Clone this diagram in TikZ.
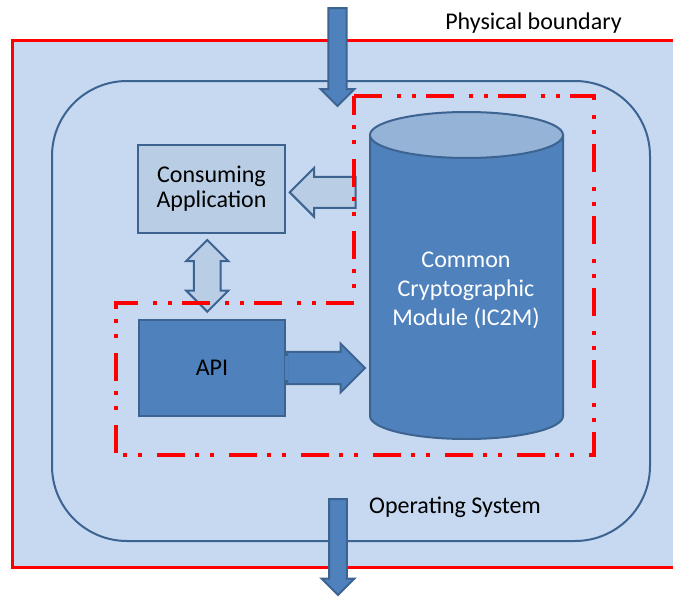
\documentclass[tikz,border=0pt]{standalone}
\usepackage{fontspec}
\setmainfont{Carlito}
\usetikzlibrary{shapes.arrows,calc}

\definecolor{bgblue}{HTML}{C6D9F1}
\definecolor{lineblue}{HTML}{3D6391}
\definecolor{midblue}{HTML}{4F81BD}
\definecolor{topblue}{HTML}{95B3D7}
\definecolor{paleblue}{HTML}{B9CDE5}
\definecolor{bred}{HTML}{FF0000}

\begin{document}
\begin{tikzpicture}[x=1pt, y=-1pt,
    every node/.style={font=\fontsize{24}{29}\selectfont},
    box/.style={draw=lineblue, line width=2pt, fill=paleblue},
    blockarrow/.style={draw=lineblue, line width=2pt},
    boundary/.style={draw=bred, line width=4pt, dash pattern=on 28pt off 15pt on 4pt off 11pt on 4pt off 10pt}]
    \useasboundingbox (0,0) rectangle (673,597);

    % Physical boundary and operating system
    \filldraw[fill=bgblue, draw=bred, line width=3pt] (12,40.5) rectangle (700,567);
    \draw[lineblue, line width=2pt, rounded corners=75pt] (52,81) rectangle (650,541);

    % Cylinder
    \filldraw[fill=midblue, draw=lineblue, line width=2pt] (370,135) -- (370,416)
        arc[start angle=180, end angle=360, x radius=96.5pt, y radius=23pt] -- (563,135) -- cycle;
    \filldraw[fill=topblue, draw=lineblue, line width=2pt] (466.5,135) ellipse [x radius=96.5pt, y radius=23pt];

    % Nodes
    \node[box, minimum width=147pt, minimum height=88pt,
        font=\fontsize{24}{25}\selectfont, align=center] (app) at (211.5,189) {Consuming\\Application};
    \node[box, fill=midblue, minimum width=146pt, minimum height=96pt] (api) at (212,368) {API};
    \node[text=white, align=center] (c2m) at (466,290) {Common\\Cryptographic\\Module (IC2M)};

    % Block arrows
    \node[blockarrow, fill=paleblue, single arrow, shape border rotate=180, inner sep=11.65pt,
        minimum height=66pt, minimum width=48.7pt, anchor=tail] (toapp) at (356.7,192.35) {};
    \node[blockarrow, fill=paleblue, double arrow, shape border rotate=90, inner sep=11.65pt,
        minimum height=71.7pt, minimum width=42pt] (appapi) at (207.3,275.85) {};
    \node[blockarrow, fill=midblue, single arrow, inner sep=13pt,
        minimum height=78pt, minimum width=48.7pt, anchor=tail] (apic2m) at (api.east) {};
    \fill[midblue] ($(api.east)+(-1.5,-12)$) rectangle ($(api.east)+(2,12)$);

    % Module boundary
    \draw[boundary] (354,96) -- (594,96) -- (594,455) -- (115.5,455) -- (115.5,303) -- (354,303) -- cycle;

    % In and out
    \node[blockarrow, fill=midblue, single arrow, shape border rotate=270, inner sep=7.5pt,
        minimum height=98pt, minimum width=33.5pt, anchor=tail] (inarrow) at (337.5,7) {};
    \node[blockarrow, fill=midblue, single arrow, shape border rotate=270, inner sep=7.5pt,
        minimum height=96pt, minimum width=33pt, anchor=tail] (outarrow) at (338,498) {};

    % Labels
    \node (phys) at (533.5,23) {Physical boundary};
    \node (os) at (455,507) {Operating System};
\end{tikzpicture}
\end{document}
